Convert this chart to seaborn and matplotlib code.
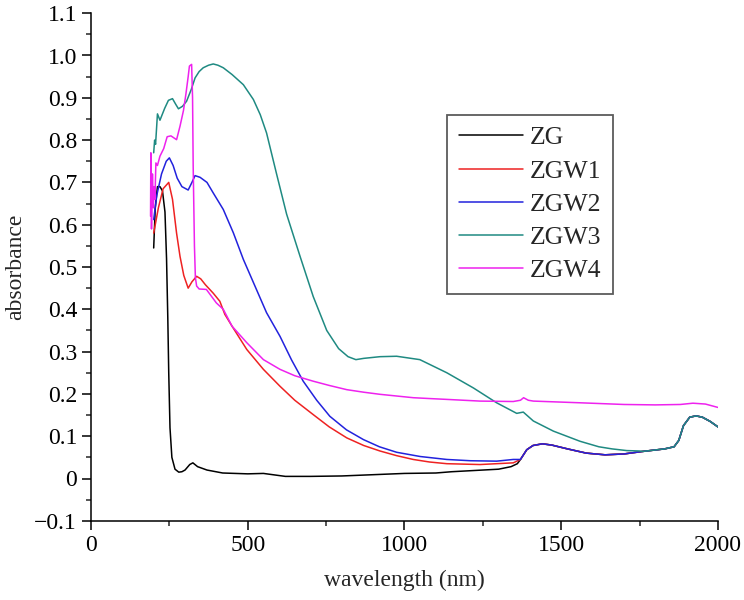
import numpy as np
import pandas as pd
import seaborn as sns
import matplotlib.pyplot as plt
from matplotlib.ticker import MultipleLocator, FuncFormatter

# absorbance spectra (wavelength in nm)
zg_nm = [200, 205, 212, 220, 228, 236, 241, 245, 248, 252, 258, 268, 280, 290, 300, 315, 325, 340, 370,
         420, 500, 550, 580, 620, 700, 800, 900, 1000, 1100, 1150, 1200, 1300, 1340, 1360]
zg_abs = [0.545, 0.64, 0.69, 0.69, 0.68, 0.63, 0.52, 0.38, 0.25, 0.12, 0.05, 0.022, 0.015, 0.016, 0.02,
          0.033, 0.037, 0.028, 0.02, 0.013, 0.011, 0.012, 0.009, 0.005, 0.005, 0.006, 0.009, 0.012,
          0.013, 0.016, 0.018, 0.022, 0.028, 0.035]

zgw1_nm = [200, 215, 230, 248, 260, 273, 284, 296, 310, 322, 337, 350, 365, 390, 411, 427, 450, 497,
           550, 603, 650, 709, 760, 816, 870, 922, 975, 1028, 1080, 1135, 1241, 1347]
zgw1_abs = [0.58, 0.64, 0.685, 0.70, 0.66, 0.58, 0.525, 0.48, 0.45, 0.465, 0.478, 0.472, 0.458, 0.438,
            0.419, 0.388, 0.36, 0.305, 0.258, 0.218, 0.185, 0.151, 0.122, 0.096, 0.078, 0.065, 0.054,
            0.045, 0.039, 0.035, 0.033, 0.037]

zgw2_nm = [200, 210, 225, 240, 250, 262, 275, 290, 310, 322, 332, 348, 370, 390, 422, 454, 486, 523,
           560, 603, 640, 677, 720, 762, 815, 869, 920, 975, 1050, 1135, 1210, 1294, 1347]
zgw2_abs = [0.612, 0.67, 0.72, 0.75, 0.758, 0.74, 0.71, 0.69, 0.682, 0.70, 0.716, 0.712, 0.70, 0.675,
            0.636, 0.581, 0.518, 0.455, 0.392, 0.336, 0.28, 0.23, 0.185, 0.147, 0.115, 0.092, 0.075,
            0.062, 0.052, 0.045, 0.042, 0.041, 0.045]

zgw3_nm = [200, 203, 206, 212, 220, 235, 247, 260, 270, 279, 292, 305, 320, 332, 345, 358, 375, 390,
           405, 422, 450, 486, 518, 540, 560, 592, 624, 667, 709, 752, 790, 820, 845, 870, 922, 975,
           1049, 1135, 1220, 1294, 1358, 1379, 1411, 1475, 1560, 1620, 1662, 1709, 1750]
zgw3_abs = [0.77, 0.80, 0.79, 0.862, 0.847, 0.875, 0.894, 0.898, 0.885, 0.874, 0.88, 0.892, 0.92, 0.947,
            0.962, 0.971, 0.977, 0.98, 0.977, 0.971, 0.955, 0.931, 0.896, 0.86, 0.817, 0.72, 0.625,
            0.525, 0.43, 0.35, 0.307, 0.288, 0.281, 0.284, 0.288, 0.289, 0.281, 0.25, 0.214, 0.179,
            0.154, 0.157, 0.136, 0.112, 0.088, 0.075, 0.07, 0.066, 0.065]

zgw4_nm = [190, 191, 193, 196, 199, 201, 204, 207, 212, 220, 232, 243, 255, 273, 284, 295, 303, 310,
           314, 321, 324, 326, 330, 333, 337, 345, 368, 400, 422, 450, 497, 550, 603, 650, 709, 760,
           816, 870, 922, 975, 1028, 1080, 1135, 1241, 1347, 1370, 1380, 1395, 1411, 1560, 1700, 1800,
           1880, 1920, 1960, 2000]
zgw4_abs = [0.62, 0.77, 0.59, 0.72, 0.64, 0.69, 0.66, 0.746, 0.74, 0.762, 0.78, 0.808, 0.81, 0.801,
            0.833, 0.87, 0.91, 0.95, 0.975, 0.979, 0.9, 0.738, 0.55, 0.475, 0.455, 0.448, 0.447, 0.415,
            0.40, 0.36, 0.321, 0.281, 0.258, 0.243, 0.23, 0.22, 0.21, 0.204, 0.199, 0.195, 0.191, 0.189,
            0.187, 0.183, 0.182, 0.185, 0.191, 0.185, 0.183, 0.179, 0.175, 0.174, 0.175, 0.178, 0.176,
            0.168]

# shared water-band tail (ZG, ZGW1, ZGW2 and ZGW3 all merge here)
tail_nm = [1370, 1390, 1410, 1440, 1470, 1520, 1580, 1640, 1700, 1760, 1830, 1860, 1875, 1890, 1910,
           1930, 1950, 1975, 2000]
tail_abs = [0.045, 0.068, 0.078, 0.082, 0.079, 0.07, 0.06, 0.056, 0.058, 0.064, 0.07, 0.075, 0.09,
            0.125, 0.145, 0.148, 0.145, 0.135, 0.122]

labels = ['ZG', 'ZGW1', 'ZGW2', 'ZGW3', 'ZGW4']
colors = ['black', '#ee2222', '#2222dd', '#1f8a82', '#ee22ee']


def with_tail(nm, ab):
    keep = [i for i, w in enumerate(tail_nm) if w > nm[-1]]
    return nm + [tail_nm[i] for i in keep], ab + [tail_abs[i] for i in keep]


series = [
    with_tail(zg_nm, zg_abs),
    with_tail(zgw1_nm, zgw1_abs),
    with_tail(zgw2_nm, zgw2_abs),
    with_tail(zgw3_nm, zgw3_abs),
    (zgw4_nm, zgw4_abs),
]

sns.set_style('ticks')
plt.rcParams['font.family'] = 'serif'
plt.rcParams['font.serif'] = ['Liberation Serif', 'DejaVu Serif']
plt.rcParams['axes.unicode_minus'] = True

fig = plt.figure(figsize=(7.44, 6.0), dpi=100)
ax = fig.add_axes([0.1223, 0.132, 0.8427, 0.846])

for (nm, ab), name, c in zip(series, labels, colors):
    df = pd.DataFrame({'wavelength': nm, 'absorbance': ab})
    sns.lineplot(data=df, x='wavelength', y='absorbance', color=c, label=name,
                 linewidth=1.1, sort=False, estimator=None, ax=ax)

ax.set_xlim(0, 2000)
ax.set_ylim(-0.1, 1.1)
ax.xaxis.set_major_locator(MultipleLocator(500))
ax.xaxis.set_minor_locator(MultipleLocator(250))
ax.yaxis.set_major_locator(MultipleLocator(0.1))
ax.yaxis.set_minor_locator(MultipleLocator(0.05))
ax.yaxis.set_major_formatter(FuncFormatter(
    lambda v, p: '0' if abs(v) < 1e-9 else f'{v:.1f}'.replace('-', '\u2212')))

sns.despine(ax=ax)
for s in ['left', 'bottom']:
    ax.spines[s].set_linewidth(1.1)
    ax.spines[s].set_color('black')
ax.tick_params(which='major', direction='out', length=6.5, width=1.1, labelsize=17, colors='black')
ax.tick_params(which='minor', direction='out', length=3.5, width=1.1)

ax.set_xlabel('wavelength (nm)', fontsize=17, labelpad=10)
ax.set_ylabel('absorbance', fontsize=17, labelpad=6)

leg = ax.legend(loc='upper left', bbox_to_anchor=(0.568, 0.80), fontsize=18.5, frameon=True,
                fancybox=False, edgecolor='#333333', handlelength=2.5, handletextpad=0.28,
                labelspacing=0.40, borderpad=0.45, borderaxespad=0)
leg.get_frame().set_linewidth(1.3)

plt.savefig('out.png', dpi=100)
